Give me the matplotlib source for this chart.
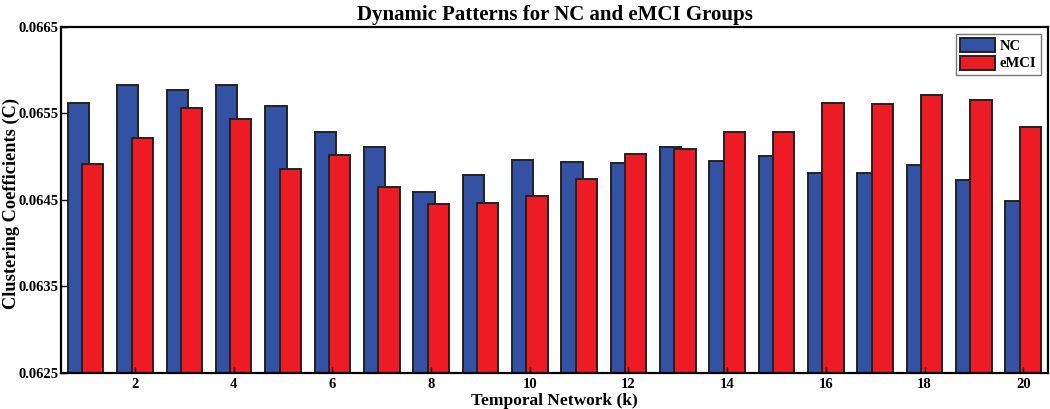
import numpy as np
import matplotlib
matplotlib.use("Agg")
import matplotlib.pyplot as plt

plt.rcParams['font.family'] = ['Liberation Serif', 'DejaVu Serif']
plt.rcParams['font.weight'] = 'bold'

# values
networks = np.arange(1, 21)
nc = [0.065614, 0.065826, 0.065768, 0.065826, 0.065583, 0.065279, 0.065109,
      0.064585, 0.064786, 0.064959, 0.064939, 0.064921, 0.065113, 0.064947,
      0.065005, 0.064812, 0.064812, 0.064898, 0.064728, 0.064485]
emci = [0.064909, 0.065210, 0.065560, 0.065433, 0.064855, 0.065017, 0.064650,
        0.064454, 0.064465, 0.064546, 0.064739, 0.065028, 0.065083, 0.065279,
        0.065279, 0.065621, 0.065606, 0.065714, 0.065649, 0.065344]
xticks = np.arange(2, 21, 2)
yticks = [0.0625, 0.0635, 0.0645, 0.0655, 0.0665]

blue = '#3352A4'
red = '#ED1C24'

fig = plt.figure(figsize=(10.5, 4.09), dpi=100)
ax = fig.add_axes([0.0581, 0.0888, 0.9399, 0.8459])

w = 0.43
off = 0.145
ax.bar(networks - off, nc, width=w, color=blue, edgecolor='#222222',
       linewidth=1.4, label='NC')
ax.bar(networks + off, emci, width=w, color=red, edgecolor='#222222',
       linewidth=1.4, label='eMCI')

ax.set_xlim(0.5, 20.5)
ax.set_ylim(0.0625, 0.0665)
ax.set_xticks(xticks)
ax.set_yticks(yticks)
ax.set_yticklabels(['%.4f' % v for v in yticks])
ax.tick_params(direction='in', length=4, width=1, labelsize=10.5)
ax.tick_params(axis='y', pad=2)
for s in ax.spines.values():
    s.set_linewidth(1.6)

ax.set_title('Dynamic Patterns for NC and eMCI Groups', fontsize=15,
             fontweight='bold', pad=5)
ax.set_xlabel('Temporal Network (k)', fontsize=12.5, fontweight='bold',
              labelpad=2)
ax.set_ylabel('Clustering Coefficients (C)', fontsize=13.2, fontweight='bold')
ax.yaxis.set_label_coords(-0.0412, 0.49)

leg = ax.legend(loc='upper right', fontsize=10.5, frameon=True, fancybox=False,
                edgecolor='#555555', handlelength=2.4, handleheight=1.1,
                handletextpad=0.3, borderpad=0.3, labelspacing=0.15,
                borderaxespad=0.5)
leg.get_frame().set_linewidth(1.0)

fig.savefig('out.png', dpi=100)
